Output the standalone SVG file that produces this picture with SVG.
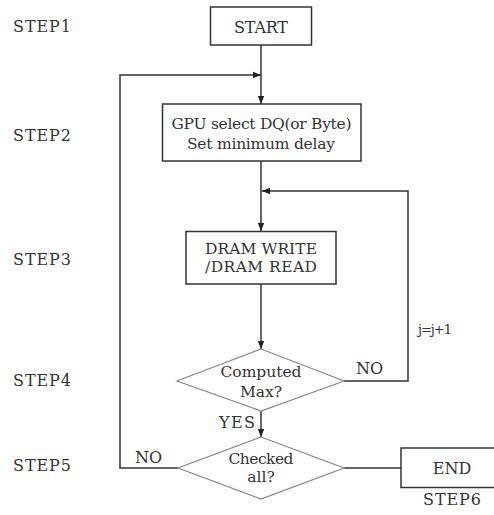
<svg xmlns="http://www.w3.org/2000/svg" width="494" height="515" viewBox="0 0 494 515" font-family="DejaVu Serif, serif">
<defs>
<marker id="arr" viewBox="0 0 10 10" refX="10" refY="5" markerWidth="8" markerHeight="8" markerUnits="userSpaceOnUse" orient="auto">
<path d="M0,1 L10,5 L0,9 z" fill="#222"/>
</marker>
</defs>
<style>
text{font-family:'DejaVu Serif',serif;font-size:16px;fill:#333}
.c{text-anchor:middle}
.two{font-size:15.5px}
.box{fill:#fff;stroke:#333;stroke-width:1.5}
.dia{fill:#fff;stroke:#888;stroke-width:1.2}
.ln{fill:none;stroke:#333;stroke-width:1.5}
.sm{font-size:13px}
</style>
<rect width="494" height="515" fill="#fff"/>
<g id="connectors">
<path class="ln" d="M261,45 V104" marker-end="url(#arr)"/>
<path class="ln" d="M178,468 H120 V75 H261" marker-end="url(#arr)"/>
<path class="ln" d="M261,161 V231" marker-end="url(#arr)"/>
<path class="ln" d="M344,381 H408 V191 H262" marker-end="url(#arr)"/>
<path class="ln" d="M261,284 V349" marker-end="url(#arr)"/>
<path class="ln" d="M261,411 V437" marker-end="url(#arr)"/>
<path class="ln" d="M344,468 H401"/>
<text x="356" y="374" textLength="27">NO</text>
<text class="sm" x="418" y="334" textLength="34">j=j+1</text>
<text x="219" y="428" textLength="36">YES</text>
<text x="135" y="463" textLength="27">NO</text>
</g>
<g id="steps">
<text x="13" y="32" textLength="58">STEP1</text>
<text x="13" y="141" textLength="58">STEP2</text>
<text x="13" y="265" textLength="58">STEP3</text>
<text x="13" y="386" textLength="58">STEP4</text>
<text x="13" y="471" textLength="58">STEP5</text>
<text x="423" y="505" textLength="58">STEP6</text>
</g>
<g id="start">
<rect class="box" x="210.5" y="7" width="101" height="38"/>
<text class="c" x="261" y="33" textLength="54">START</text>
</g>
<g id="gpu">
<rect class="box" x="162.5" y="104" width="198.5" height="57"/>
<text class="c two" x="261.5" y="129" textLength="180">GPU select DQ(or Byte)</text>
<text class="c two" x="261" y="149" textLength="148">Set minimum delay</text>
</g>
<g id="dram">
<rect class="box" x="186" y="231.5" width="150" height="52.5"/>
<text class="c two" x="261" y="254" textLength="112">DRAM WRITE</text>
<text class="c two" x="261" y="272" textLength="112">/DRAM READ</text>
</g>
<g id="computed">
<polygon class="dia" points="261,349 344,381 261,411 177,381"/>
<text class="c two" x="261" y="377" textLength="81">Computed</text>
<text class="c two" x="261" y="397">Max?</text>
</g>
<g id="checked">
<polygon class="dia" points="261,437 344,468 261,499 178,468"/>
<text class="c two" x="261" y="464" textLength="65">Checked</text>
<text class="c two" x="261" y="482">all?</text>
</g>
<g id="end">
<rect class="box" x="401" y="448" width="110" height="39.5"/>
<text class="c" x="452" y="474">END</text>
</g>
</svg>
